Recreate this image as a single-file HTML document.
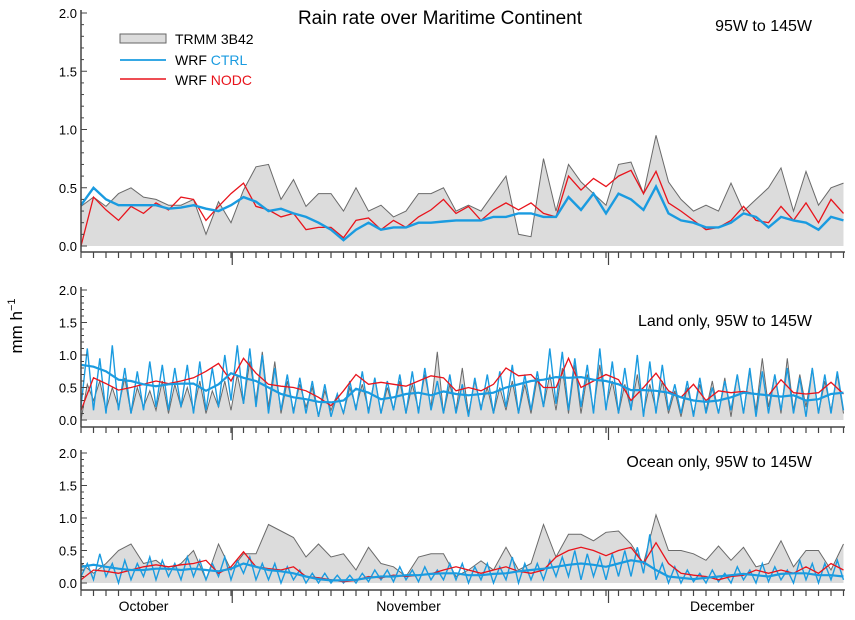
<!DOCTYPE html>
<html><head><meta charset="utf-8"><style>
html,body{margin:0;padding:0;background:#fff}
svg{display:block;font-family:"Liberation Sans",Arial,sans-serif}
</style></head><body>
<svg id="chart" width="855" height="620" viewBox="0 0 855 620" xmlns="http://www.w3.org/2000/svg">
<text x="440" y="24" font-size="19" text-anchor="middle">Rain rate over Maritime Continent</text>
<text x="22" y="326" font-size="17" text-anchor="middle" transform="rotate(-90 22 326)">mm h<tspan dy="-7" font-size="11">−1</tspan></text>
<g id="panels"></g>
<g>
<rect x="120" y="34" width="46" height="9" fill="#dcdcdc" stroke="#666"/>
<text x="175" y="44" font-size="14">TRMM 3B42</text>
<line x1="120" y1="60" x2="166" y2="60" stroke="#1a9be0" stroke-width="1.8"/>
<text x="175" y="65" font-size="14">WRF <tspan fill="#1a9be0">CTRL</tspan></text>
<line x1="120" y1="79" x2="166" y2="79" stroke="#e8141c" stroke-width="1.5"/>
<text x="175" y="85" font-size="14">WRF <tspan fill="#e8141c">NODC</tspan></text>
</g>
</svg>
<script>
const monthLabels = ["October","November","December"];
const monthLabelDays = [5.0, 26.2, 51.3];
const majorTickDays = [12.1, 42.2];
const yTickLabels = ["0.0","0.5","1.0","1.5","2.0"];
const yTickValues = [0,0.5,1.0,1.5,2.0];
const panelLabels = ["95W to 145W","Land only, 95W to 145W","Ocean only, 95W to 145W"];

// Panel 1 (all)
const trmmAll = [0.34,0.42,0.34,0.45,0.5,0.42,0.4,0.35,0.35,0.4,0.1,0.38,0.2,0.48,0.68,0.7,0.4,0.57,0.34,0.45,
0.45,0.3,0.5,0.3,0.35,0.25,0.3,0.45,0.45,0.5,0.3,0.35,0.3,0.45,0.6,0.1,0.08,0.75,0.3,0.7,
0.55,0.45,0.35,0.7,0.72,0.45,0.95,0.55,0.4,0.3,0.35,0.3,0.54,0.3,0.4,0.5,0.67,0.3,0.64,0.35,0.5,0.54];
const ctrlAll = [0.35,0.5,0.4,0.35,0.35,0.35,0.35,0.32,0.33,0.35,0.32,0.3,0.35,0.42,0.38,0.3,0.32,0.28,0.25,0.2,
0.14,0.05,0.14,0.2,0.14,0.16,0.16,0.2,0.2,0.21,0.22,0.22,0.22,0.25,0.25,0.28,0.28,0.25,0.25,0.42,
0.31,0.45,0.28,0.45,0.4,0.31,0.51,0.28,0.22,0.2,0.16,0.16,0.2,0.28,0.25,0.16,0.25,0.22,0.2,0.14,0.25,0.22];
const nodcAll = [0,0.42,0.31,0.22,0.34,0.28,0.37,0.31,0.42,0.4,0.22,0.34,0.45,0.54,0.34,0.31,0.25,0.28,0.14,0.16,
0.16,0.07,0.22,0.24,0.14,0.22,0.16,0.25,0.31,0.4,0.28,0.34,0.22,0.31,0.37,0.31,0.37,0.28,0.25,0.6,
0.48,0.58,0.51,0.6,0.65,0.45,0.64,0.37,0.3,0.22,0.14,0.16,0.22,0.34,0.22,0.2,0.34,0.22,0.37,0.2,0.4,0.28];

// Panel 2 (land)
const trmmLandPeak = [0.55,0.6,0.5,0.65,0.5,0.45,0.6,0.55,0.5,0.6,0.45,0.6,0.7,0.9,1.05,0.9,0.6,0.55,0.5,0.45,
0.4,0.5,0.55,0.65,0.5,0.6,0.55,0.7,1.05,0.55,0.8,0.6,0.5,0.5,0.6,0.55,0.65,0.7,0.8,0.85,
0.7,0.85,0.6,0.55,0.7,0.55,0.6,0.45,0.5,0.55,0.6,0.65,0.7,0.75,0.95,0.7,0.95,0.7,0.8,0.6,0.7];
const trmmLandTrough = [0.0,0.3,0.15,0.2,0.1,0.2,0.15,0.1,0.2,0.15,0.1,0.2,0.15,0.25,0.3,0.2,0.1,0.15,0.2,0.05,
0.15,0.1,0.2,0.15,0.1,0.15,0.1,0.15,0.2,0.1,0.15,0.1,0.2,0.1,0.15,0.1,0.1,0.2,0.15,0.1,
0.1,0.15,0.2,0.1,0.15,0.1,0.15,0.1,0.05,0.1,0.15,0.1,0.05,0.1,0.15,0.2,0.1,0.15,0.2,0.1,0.15,0.1];
const ctrlLandPeak = [1.1,0.95,1.15,0.8,0.75,0.9,0.85,0.8,0.85,0.9,0.8,1.0,1.15,1.1,1.0,0.8,0.7,0.65,0.6,0.55,
0.4,0.6,0.75,0.65,0.6,0.7,0.75,0.8,0.6,0.7,0.55,0.65,0.7,0.75,0.85,0.7,0.75,1.1,1.05,0.95,
0.85,1.1,0.9,0.8,1.0,0.9,0.85,0.55,0.6,0.65,0.5,0.6,0.7,0.8,0.75,0.7,0.8,0.65,0.8,0.7,0.75];
const ctrlLandTrough = [0.2,0.15,0.1,0.15,0.1,0.15,0.2,0.15,0.2,0.1,0.15,0.2,0.3,0.25,0.2,0.1,0.15,0.1,0.1,0.05,
0.05,0.1,0.15,0.1,0.1,0.15,0.1,0.1,0.15,0.1,0.1,0.05,0.15,0.1,0.2,0.1,0.15,0.2,0.25,0.15,
0.2,0.1,0.15,0.1,0.15,0.05,0.1,0.15,0.1,0.05,0.1,0.1,0.15,0.1,0.05,0.1,0.15,0.1,0.05,0.1,0.1,0.15];
const ctrlLandMean = [0.85,0.82,0.75,0.62,0.6,0.55,0.52,0.55,0.56,0.56,0.45,0.55,0.72,0.65,0.6,0.5,0.4,0.35,0.32,0.28,
0.27,0.3,0.48,0.42,0.32,0.35,0.4,0.42,0.38,0.44,0.4,0.38,0.4,0.42,0.5,0.55,0.6,0.62,0.66,0.65,
0.66,0.62,0.6,0.55,0.46,0.46,0.45,0.42,0.35,0.3,0.28,0.3,0.35,0.42,0.4,0.38,0.36,0.38,0.3,0.32,0.4,0.42];
const nodcLand = [0.15,0.65,0.56,0.46,0.5,0.55,0.6,0.56,0.6,0.65,0.75,0.87,0.6,0.95,0.72,0.55,0.52,0.5,0.45,0.35,
0.22,0.45,0.7,0.55,0.58,0.55,0.52,0.6,0.68,0.65,0.45,0.5,0.45,0.55,0.8,0.68,0.7,0.5,0.5,0.95,
0.5,0.6,0.7,0.62,0.3,0.5,0.72,0.45,0.35,0.55,0.3,0.45,0.42,0.44,0.4,0.38,0.62,0.42,0.4,0.42,0.58,0.4];

// Panel 3 (ocean)
const trmmOcean = [0.3,0.15,0.3,0.5,0.6,0.3,0.35,0.2,0.3,0.5,0.05,0.6,0.2,0.45,0.45,0.9,0.8,0.7,0.4,0.6,
0.4,0.45,0.2,0.55,0.3,0.25,0.1,0.4,0.45,0.45,0.1,0.2,0.34,0.2,0.55,0.2,0.3,0.9,0.4,0.75,
0.75,0.65,0.78,0.8,0.6,0.3,1.05,0.5,0.5,0.45,0.35,0.57,0.35,0.55,0.25,0.3,0.65,0.25,0.5,0.5,0.2,0.6];
const ctrlOceanPeak = [0.3,0.45,0.3,0.35,0.3,0.4,0.35,0.3,0.4,0.35,0.3,0.4,0.35,0.4,0.3,0.3,0.25,0.2,0.15,0.15,
0.12,0.12,0.15,0.2,0.2,0.25,0.2,0.25,0.2,0.3,0.3,0.25,0.3,0.25,0.4,0.3,0.3,0.35,0.4,0.5,
0.45,0.4,0.45,0.5,0.55,0.75,0.3,0.25,0.2,0.15,0.2,0.15,0.25,0.2,0.3,0.25,0.2,0.35,0.3,0.3,0.35];
const ctrlOceanTrough = [0.1,0.05,0.1,0.0,0.05,0.1,0.05,0.1,0.05,0.1,0.05,0.1,0.05,0.15,0.05,0.05,0.0,0.05,0.0,0.0,
0.0,0.0,0.0,0.02,0.05,0.02,0.05,0.02,0.05,0.05,0.05,0.0,0.05,0.0,0.05,0.0,0.05,0.05,0.1,0.1,
0.05,0.1,0.05,0.1,0.1,0.15,0.05,0.0,0.0,0.02,0.0,0.02,0.0,0.05,0.0,0.02,0.05,0.0,0.05,0.0,0.05,0.05];
const ctrlOceanMean = [0.25,0.28,0.25,0.22,0.2,0.2,0.22,0.22,0.2,0.22,0.2,0.18,0.22,0.3,0.25,0.2,0.18,0.15,0.1,0.06,
0.04,0.04,0.05,0.08,0.1,0.1,0.12,0.12,0.14,0.15,0.15,0.12,0.12,0.14,0.15,0.18,0.2,0.22,0.25,0.28,
0.3,0.28,0.25,0.3,0.35,0.32,0.2,0.1,0.08,0.06,0.08,0.1,0.12,0.14,0.12,0.1,0.14,0.15,0.15,0.12,0.12,0.1];
const nodcOcean = [0.05,0.2,0.18,0.15,0.2,0.25,0.28,0.25,0.28,0.3,0.35,0.15,0.25,0.48,0.25,0.22,0.2,0.25,0.1,0.08,
0.05,0.02,0.04,0.1,0.08,0.12,0.1,0.12,0.14,0.2,0.25,0.2,0.15,0.2,0.25,0.18,0.15,0.2,0.4,0.5,
0.55,0.5,0.42,0.5,0.55,0.3,0.62,0.3,0.15,0.12,0.1,0.05,0.1,0.12,0.2,0.15,0.2,0.15,0.25,0.15,0.3,0.2];

const NS='http://www.w3.org/2000/svg';
const X0=81, X1=845, DAYPX=12.5;
function xs(d){return X0+d*DAYPX;}
function mk(tag,attrs,parent){const e=document.createElementNS(NS,tag);for(const k in attrs)e.setAttribute(k,attrs[k]);parent.appendChild(e);return e;}
function interleave(tr,pk){const pts=[];for(let i=0;i<tr.length;i++){pts.push([i,tr[i]]);if(i<pk.length)pts.push([i+0.5,pk[i]]);}return pts;}
function daily(arr){return arr.map((v,i)=>[i,v]);}
function pathD(pts,ys){return pts.map((p,i)=>(i?'L':'M')+xs(p[0]).toFixed(1)+','+ys(p[1]).toFixed(1)).join('');}

const panels=[
 {top:13,y0:246,bottom:252,major:265,trmm:daily(trmmAll),ctrlM:null,ctrl:daily(ctrlAll),nodc:daily(nodcAll),label:panelLabels[0],ly:31},
 {top:290,y0:420,bottom:427,major:440,trmm:interleave(trmmLandTrough,trmmLandPeak),ctrlM:interleave(ctrlLandTrough,ctrlLandPeak),ctrl:daily(ctrlLandMean),nodc:daily(nodcLand),label:panelLabels[1],ly:326},
 {top:453,y0:583,bottom:590,major:603,trmm:daily(trmmOcean),ctrlM:interleave(ctrlOceanTrough,ctrlOceanPeak),ctrl:daily(ctrlOceanMean),nodc:daily(nodcOcean),label:panelLabels[2],ly:467}
];
const root=document.getElementById('panels');
panels.forEach((p,pi)=>{
 const g=mk('g',{},root);
 
 
 const k=(p.y0-p.top)/2;
 const ys=v=>p.y0-v*k;
 const cx=d=>Math.min(Math.max(d,0),(X1-X0)/DAYPX);
 const tp=p.trmm.map(q=>[cx(q[0]),q[1]]);
 const area=mk('path',{d:pathD(tp,ys)+'L'+xs(tp[tp.length-1][0])+','+p.y0+'L'+xs(tp[0][0])+','+p.y0+'Z',fill:'#dcdcdc',stroke:'none'},g);
 
 
 const tl=mk('path',{d:pathD(tp,ys),fill:'none',stroke:'#6a6a6a','stroke-width':1},g);
 
 
 if(p.ctrlM){
  const cm=mk('path',{d:pathD(p.ctrlM.map(q=>[cx(q[0]),q[1]]),ys),fill:'none',stroke:'#1a9be0','stroke-width':1.4},g);
  
  
 }
 const nl=mk('path',{d:pathD(p.nodc.map(q=>[cx(q[0]),q[1]]),ys),fill:'none',stroke:'#e8141c','stroke-width':1.3},g);
 
 
 const cl=mk('path',{d:pathD(p.ctrl.map(q=>[cx(q[0]),q[1]]),ys),fill:'none',stroke:'#1a9be0','stroke-width':p.ctrlM?2.2:2.4},g);
 
 
 // axes
 const ya=mk('line',{x1:X0,y1:p.top-3,x2:X0,y2:p.bottom,stroke:'#444','stroke-width':1.5},g);
 
 
 const xa=mk('line',{x1:X0,y1:p.bottom,x2:X1,y2:p.bottom,stroke:'#444','stroke-width':1.5},g);
 
 
 for(let t=0;t<=20;t++){const y=ys(t/10);mk('line',{x1:X0,y1:y,x2:X0+(t%5===0?6:3),y2:y,stroke:'#444','stroke-width':1},g);}
 yTickValues.forEach((v,i)=>{
  const tx=mk('text',{x:X0-4,y:ys(v)+5,'font-size':13,'text-anchor':'end'},g);
  tx.textContent=yTickLabels[i];
  
  
 });
 for(let d=0;d<=61;d++){mk('line',{x1:xs(d),y1:p.bottom,x2:xs(d),y2:p.bottom+6,stroke:'#444','stroke-width':1.2},g);}
 majorTickDays.forEach(d=>{mk('line',{x1:xs(d),y1:p.bottom,x2:xs(d),y2:p.major,stroke:'#444','stroke-width':1.2},g);});
 const pl=mk('text',{x:812,y:p.ly,'font-size':16,'text-anchor':'end'},g);
 pl.textContent=p.label;
 
 
});
monthLabels.forEach((m,i)=>{
 const t=mk('text',{x:xs(monthLabelDays[i]),y:611,'font-size':14,'text-anchor':'middle'},document.getElementById('chart'));
 t.textContent=m;
 
 
});
</script>
</body></html>
